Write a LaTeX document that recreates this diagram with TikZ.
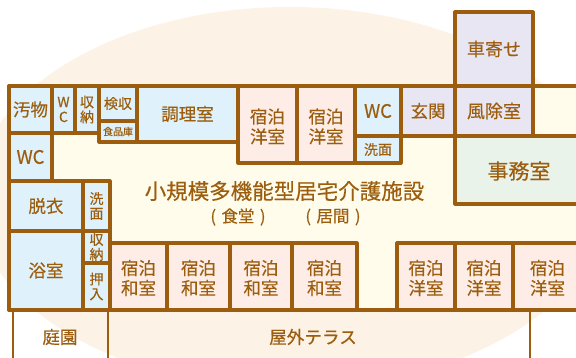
\documentclass[tikz,border=0pt]{standalone}
\usepackage{fontspec}
\setmainfont{Noto Sans CJK JP}[FakeBold=0.3]
\definecolor{wand}{RGB}{156, 94, 14}
\definecolor{terrasse}{RGB}{253, 242, 230}
\definecolor{flur}{RGB}{255, 252, 236}
\definecolor{blau}{RGB}{223, 241, 251}
\definecolor{rosa}{RGB}{253, 237, 230}
\definecolor{lila}{RGB}{233, 230, 244}
\definecolor{gruen}{RGB}{233, 243, 234}
\tikzset{
    raum/.style={draw=wand, line width=3.2pt, line join=round},
    txt/.style={text=wand, inner sep=0pt, align=center, font=\fontsize{17.5}{20}\selectfont},
    klein/.style={txt, font=\fontsize{14}{15}\selectfont},
    duenn/.style={draw=wand, line width=1.4pt},
}
\begin{document}
\begin{tikzpicture}[x=1pt, y=-1pt]
    \useasboundingbox (0,0) rectangle (576,358);
    \clip (0,0) rectangle (576,358);

    % Hintergrund
    \fill[terrasse] (290,198) ellipse [x radius=315, y radius=191];
    \fill[flur] (9,86) rectangle (580,310);

    % linke Seite
    \foreach \xa/\ya/\xb/\yb/\name/\lab in {9/86/52/133/soil/汚物, 9/133/52/181/wca/{\fontsize{18.5}{20}\selectfont WC}, 9/181/83/231/datsui/脱衣, 9/231/83/310/bath/浴室, 137/86/238/142/kitchen/調理室, 355/86/401/136/wcb/{\fontsize{18.5}{20}\selectfont WC}}{
        \draw[raum, fill=blau] (\xa,\ya) rectangle (\xb,\yb) node[midway, txt] (\name) {\lab};
    }
    \foreach \xa/\ya/\xb/\yb/\name/\lab in {52/86/75/133/wcc/{W\\C}, 75/86/99/133/store/{収\\納}, 99/86/137/121/inspect/検収, 83/181/110/231/wash/{洗\\面}, 83/231/110/263/storeb/{収\\納}, 83/263/110/310/closet/{押\\入}, 355/136/401/163/washb/洗面}{
        \draw[raum, fill=blau] (\xa,\ya) rectangle (\xb,\yb) node[midway, klein] (\name) {\lab};
    }
    \draw[raum, fill=blau] (99,121) rectangle (137,142) node[midway, txt, font=\fontsize{10}{11}\selectfont] (pantry) {食品庫};

    % Zimmer
    \foreach \xa/\xb/\name in {238/297/ra, 297/355/rb}{
        \draw[raum, fill=rosa] (\xa,86) rectangle (\xb,163) node[midway, txt, yshift=-2pt] (\name) {宿泊\\洋室};
    }
    \foreach \xa/\xb/\name in {110/167/rc, 167/230/rd, 230/292/re, 292/357/rf}{
        \draw[raum, fill=rosa] (\xa,243) rectangle (\xb,310) node[midway, txt, yshift=-1.5pt] (\name) {宿泊\\和室};
    }
    \foreach \xa/\xb/\name in {397/455/rg, 455/513/rh, 513/582/ri}{
        \draw[raum, fill=rosa] (\xa,243) rectangle (\xb,310) node[midway, txt, yshift=-1.5pt] (\name) {宿泊\\洋室};
    }

    % Eingang
    \draw[raum, fill=lila] (455,12) rectangle (533,86) node[midway, txt, font=\fontsize{18}{20}\selectfont] (porch) {車寄せ};
    \draw[raum, fill=lila] (401,86) rectangle (455,136) node[midway, txt] (entry) {玄関};
    \draw[raum, fill=lila] (455,86) rectangle (533,136) node[midway, txt, font=\fontsize{18}{20}\selectfont] (windbreak) {風除室};
    \draw[raum, fill=gruen] (455,136) rectangle (582,204);
    \node[txt, font=\fontsize{21}{24}\selectfont] (office) at (519,171) {事務室};

    % Aussenwand
    \draw[raum] (576,86) -- (9,86) -- (9,310) -- (576,310);

    \node[txt, font=\fontsize{21.5}{24}\selectfont] (hall) at (284.5,191) {小規模多機能型居宅介護施設};
    \node[klein, font=\fontsize{16.5}{18}\selectfont] (dining) at (238,217) {(\,\,食堂\,\,)};
    \node[klein, font=\fontsize{16.5}{18}\selectfont] (living) at (333,217) {(\,\,居間\,\,)};

    % unten
    \foreach \x in {13,108,530}{
        \draw[duenn] (\x,311) -- ++ (0,47);
    }
    \node[txt] (garden) at (60,337) {庭園};
    \node[txt, font=\fontsize{17.6}{20}\selectfont] (terrace) at (313,337) {屋外テラス};

\end{tikzpicture}
\end{document}
